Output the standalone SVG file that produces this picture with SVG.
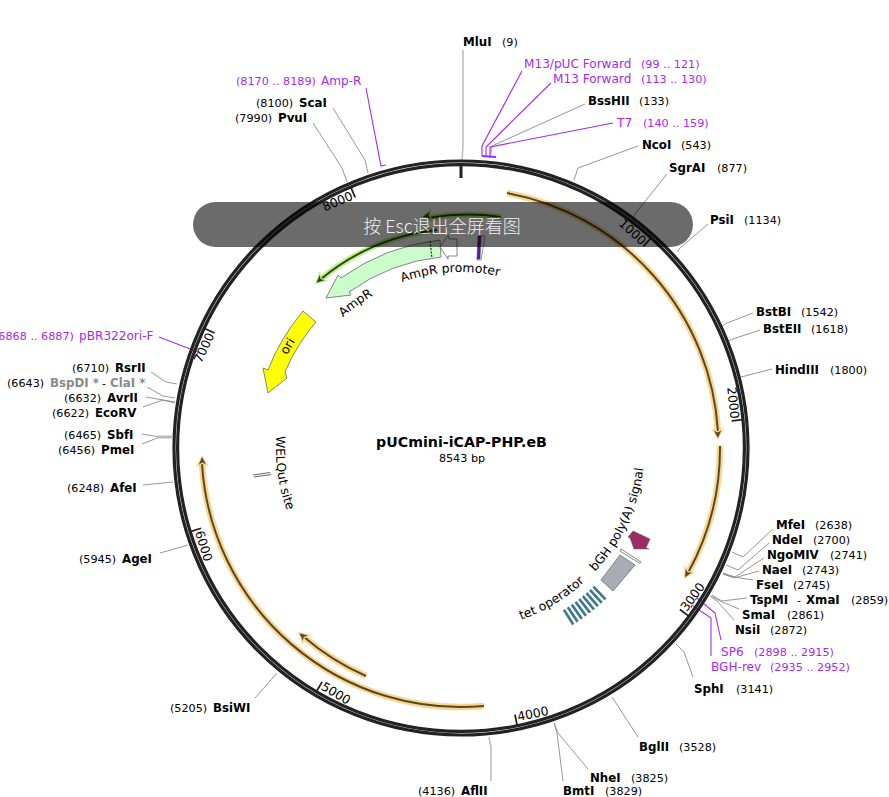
<svg xmlns="http://www.w3.org/2000/svg" width="889" height="797" viewBox="0 0 889 797">
<style>
text{font-family:"DejaVu Sans",sans-serif;fill:#000}
.e{font-size:11.8px;font-weight:700}
.n{font-size:11.2px}
.p{font-size:11.2px;fill:#a52af0}
.pn{font-size:12.1px;fill:#a52af0}
.g{font-weight:700;font-size:11.8px;fill:#8a8a8a}
.f{font-size:12.4px}
.t{font-size:12.4px}
.c{fill:none;stroke:#8a8a8a;stroke-width:.9}
.cl{fill:none;stroke:#bbb;stroke-width:1.5}
.cp{fill:none;stroke:#a52af0;stroke-width:1.1}
.ring{fill:none;stroke:#222;stroke-width:3.2}
.tick{stroke:#222;stroke-width:1.8}
.og{fill:none;stroke:#fdd58a;stroke-width:6.5}
.od{fill:none;stroke:#54482f;stroke-width:2}
.gg{fill:none;stroke:#bdf088;stroke-width:6}
.gd{fill:none;stroke:#2c4a1c;stroke-width:2}
.st{fill:#2f7f93;stroke:#4d646c;stroke-width:.5}
.fs{stroke:#777;stroke-width:.9}
</style>
<defs>
<g id="oh"><polygon points="0,0 -12,-6.5 -9,0 -12,6.5" fill="#fdd58a"/><polygon points="-2,0 -9.5,-3.5 -7.5,0 -9.5,3.5" fill="#54482f"/></g>
<g id="gh"><polygon points="0,0 -12,-6.5 -9,0 -12,6.5" fill="#bdf088"/><polygon points="-2,0 -9.5,-3.5 -7.5,0 -9.5,3.5" fill="#2c4a1c"/></g>
<path id="tpAP" d="M363.9,301.2A176,176 0 0 1 539.5,290.5"/>
<path id="tpA" d="M300.2,376.4A176,176 0 0 1 442.6,273"/>
<path id="tpO" d="M264,446.6A197,197 0 0 1 363.7,276.7"/>
<path id="tpW" d="M289.4,378.7A185,185 0 0 0 315.2,561.9"/>
<path id="tpT" d="M464.2,630A182,182 0 0 0 620.2,536.2"/>
<path id="tpB" d="M565,597.5A184,184 0 0 0 644,428.8"/>
</defs>
<g id="connectors">
<polyline class="cl" points="463,50 463,146 462,160"/>
<polyline class="c" points="585,104 492,146 490,158"/>
<polyline class="c" points="638,146 578,168 574,180"/>
<polyline class="c" points="667,174 635,214 633,220"/>
<polyline class="c" points="708,224 680,248 677,252"/>
<polyline class="c" points="753,313 727,323 722,326"/>
<polyline class="c" points="760,330 733,339 729,341"/>
<polyline class="c" points="772,369 745,376 741,377"/>
<polyline class="c" points="773,529 743,557 732,552"/>
<polyline class="c" points="769,543 738,570 726,565"/>
<polyline class="c" points="764,558 735,577 723,573"/>
<polyline class="c" points="759,571 734,578 723,574"/>
<polyline class="c" points="753,580 733,577 723,574"/>
<polyline class="c" points="747,598 722,601 712,595"/>
<polyline class="c" points="739,609 720,601 711,596"/>
<polyline class="c" points="734,620 717,601 710,596"/>
<polyline class="c" points="693,677 684,652 676,644"/>
<polyline class="c" points="638,737 612,697"/>
<polyline class="c" points="588,769 558,733 554,723"/>
<polyline class="c" points="563,781 557,733 554,723"/>
<polyline class="cl" points="491,781 491,748 489,737"/>
<polyline class="c" points="255,698 277,673"/>
<polyline class="c" points="160,553 188,545"/>
<polyline class="c" points="143,485 173,482"/>
<polyline class="c" points="142,444 160,437 172,437"/>
<polyline class="c" points="142,434 160,437 172,437"/>
<line x1="158" y1="437" x2="172" y2="437" stroke="#bbb" stroke-width="3"/>
<polyline class="c" points="143,407 163,400 175,403"/>
<polyline class="c" points="146,397 163,400 175,402"/>
<polyline class="c" points="147,387 163,396 175,398"/>
<polyline class="c" points="151,372 166,382 177,384"/>
<polyline class="c" points="333,108 365,160 368,173"/>
<polyline class="c" points="313,123 342,168 347,182"/>
<polyline class="cp" points="522,71 482,146 482,156"/>
<line x1="482" y1="156" x2="496" y2="157" stroke="#a52af0" stroke-width="2"/>
<polyline class="cp" points="551,83 486,147 486,156"/>
<polyline class="cp" points="613,123 490,147 490,157"/>
<polyline class="cp" points="366,88 381,166 386,165"/>
<polyline class="cp" points="159,337 198,352 196,356"/>
<polyline class="cp" points="721,640 715,613 697,598 695,600"/>
<polyline class="cp" points="711,656 711,618 692,605 691,608"/>
</g>
<g id="backbone">
<circle class="ring" cx="461" cy="448" r="287"/>
<circle class="ring" cx="461" cy="448" r="283.4"/>
<line x1="461" y1="165" x2="461" y2="178" stroke="#222" stroke-width="3"/>
</g>
<g id="ticks">
<g transform="rotate(42.14 461 448)"><line class="tick" x1="461" y1="176" x2="461" y2="164"/><text class="t" x="459" y="177" text-anchor="end">1000</text></g>
<g transform="rotate(84.28 461 448)"><line class="tick" x1="461" y1="176" x2="461" y2="164"/><text class="t" x="459" y="177" text-anchor="end">2000</text></g>
<g transform="rotate(306.42 461 448)"><line class="tick" x1="461" y1="720" x2="461" y2="732"/><text class="t" x="463" y="727">3000</text></g>
<g transform="rotate(348.56 461 448)"><line class="tick" x1="461" y1="720" x2="461" y2="732"/><text class="t" x="463" y="727">4000</text></g>
<g transform="rotate(30.7 461 448)"><line class="tick" x1="461" y1="720" x2="461" y2="732"/><text class="t" x="463" y="727">5000</text></g>
<g transform="rotate(72.84 461 448)"><line class="tick" x1="461" y1="720" x2="461" y2="732"/><text class="t" x="463" y="727">6000</text></g>
<g transform="rotate(295 461 448)"><line class="tick" x1="461" y1="176" x2="461" y2="164"/><text class="t" x="459" y="177" text-anchor="end">7000</text></g>
<g transform="rotate(337.1 461 448)"><line class="tick" x1="461" y1="176" x2="461" y2="164"/><text class="t" x="459" y="177" text-anchor="end">8000</text></g>
</g>
<g id="feature-orange-1"><path class="og" d="M507,193A258,258 0 0 1 718,432"/><path class="od" d="M507,193A258,258 0 0 1 718,432"/><use href="#oh" transform="translate(718,440) rotate(88)"/></g>
<g id="feature-orange-2"><path class="og" d="M720,446A259,259 0 0 1 688,573"/><path class="od" d="M720,446A259,259 0 0 1 688,573"/><use href="#oh" transform="translate(684,579) rotate(120)"/></g>
<g id="feature-orange-3"><path class="og" d="M366,676A247,247 0 0 1 304,637"/><path class="od" d="M366,676A247,247 0 0 1 304,637"/><use href="#oh" transform="translate(298,632) rotate(221)"/></g>
<g id="feature-orange-4"><path class="og" d="M484,706A259,259 0 0 1 202,464"/><path class="od" d="M484,706A259,259 0 0 1 202,464"/><use href="#oh" transform="translate(202,455) rotate(268)"/></g>
<g id="feature-green-1"><path class="gg" d="M501,217A233,233 0 0 0 428,218"/><path class="gd" d="M501,217A233,233 0 0 0 428,218"/><use href="#gh" transform="translate(421,217) rotate(170)"/></g>
<g id="feature-green-2"><path class="gg" d="M437,230A220,220 0 0 0 321,279"/><path class="gd" d="M437,230A220,220 0 0 0 321,279"/><use href="#gh" transform="translate(315,284) rotate(138)"/></g>
<g id="AmpR"><path class="fs" fill="#ccfccc" d="M440,240L441,257A192,192 0 0 0 349,292L351,295L326,298L338,275L341,278A209,209 0 0 1 440,240Z"/><line x1="430" y1="241" x2="432" y2="258" stroke="#000" stroke-dasharray="2 1.5"/><text class="f"><textPath href="#tpA" startOffset="50%" text-anchor="middle">AmpR</textPath></text></g>
<g id="AmpR-promoter"><polygon class="fs" fill="#fff" points="440,247 448,235 449,239 457,239 457,256 448,256 448,259"/><text class="f"><textPath href="#tpAP" startOffset="50%" text-anchor="middle">AmpR promoter</textPath></text></g>
<g id="mark"><polygon fill="#fff" stroke="#777" stroke-width=".8" points="481,236 485,236 481,260 477,260"/><polygon fill="#5a1a90" stroke="#444" stroke-width=".6" points="478,236 481,236 480,259 477,259"/></g>
<g id="ori"><path class="fs" fill="#ff0" d="M303,311L316,322A192,192 0 0 0 285,372L287,378L268,393L263,368L268,370A209,209 0 0 1 303,311Z"/><text class="f"><textPath href="#tpO" startOffset="50%" text-anchor="middle">ori</textPath></text></g>
<g id="WELQut"><line x1="253" y1="475" x2="270" y2="472.5" stroke="#666"/><line x1="254" y1="477" x2="271" y2="474.5" stroke="#666"/><text class="f"><textPath href="#tpW" startOffset="50%" text-anchor="middle">WELQut site</textPath></text></g>
<g id="tet-operator">
<rect class="st" x="460" y="239" width="2.2" height="17" transform="rotate(147.5 461 448)"/>
<rect class="st" x="460" y="239" width="2.2" height="17" transform="rotate(146.1 461 448)"/>
<rect class="st" x="460" y="239" width="2.2" height="17" transform="rotate(144.7 461 448)"/>
<rect class="st" x="460" y="239" width="2.2" height="17" transform="rotate(143.3 461 448)"/>
<rect class="st" x="460" y="239" width="2.2" height="17" transform="rotate(141.9 461 448)"/>
<rect class="st" x="460" y="239" width="2.2" height="17" transform="rotate(140.5 461 448)"/>
<rect class="st" x="460" y="239" width="2.2" height="17" transform="rotate(139.1 461 448)"/>
<rect class="st" x="460" y="239" width="2.2" height="17" transform="rotate(137.7 461 448)"/>
<rect class="st" x="460" y="239" width="2.2" height="17" transform="rotate(136.3 461 448)"/>
<text class="f"><textPath href="#tpT" startOffset="50%" text-anchor="middle">tet operator</textPath></text></g>
<g id="bGH"><polygon class="fs" fill="#a8adb5" points="620,555 635,565 613,591 601,580"/><polygon class="fs" fill="#fff" stroke-width=".7" points="621,549 641,562 640,563.5 620,551"/><polygon fill="#9b2d62" stroke="#666" stroke-width=".6" points="633,531 650,539 646,548 649,549 634,549 630,538 628,537"/><text class="f"><textPath href="#tpB" startOffset="50%" text-anchor="middle">bGH poly(A) signal</textPath></text></g>
<g id="title"><text x="461.5" y="447" text-anchor="middle" font-size="14.2" font-weight="700">pUCmini-iCAP-PHP.eB</text><text class="n" x="462" y="462" text-anchor="middle">8543 bp</text></g>
<g id="MluI"><text class="e" x="463" y="46">MluI</text><text class="n" x="502" y="46">(9)</text></g>
<g id="M13pUC"><text class="pn" x="524" y="68">M13/pUC Forward</text><text class="p" x="641" y="68">(99 .. 121)</text></g>
<g id="M13F"><text class="pn" x="553" y="83">M13 Forward</text><text class="p" x="641" y="83">(113 .. 130)</text></g>
<g id="BssHII"><text class="e" x="588" y="105">BssHII</text><text class="n" x="639" y="105">(133)</text></g>
<g id="T7"><text class="pn" x="617" y="127">T7</text><text class="p" x="643" y="127">(140 .. 159)</text></g>
<g id="NcoI"><text class="e" x="642" y="149">NcoI</text><text class="n" x="681" y="149">(543)</text></g>
<g id="SgrAI"><text class="e" x="669" y="172">SgrAI</text><text class="n" x="717" y="172">(877)</text></g>
<g id="PsiI"><text class="e" x="710" y="224">PsiI</text><text class="n" x="744" y="224">(1134)</text></g>
<g id="BstBI"><text class="e" x="756" y="316">BstBI</text><text class="n" x="801" y="316">(1542)</text></g>
<g id="BstEII"><text class="e" x="763" y="333">BstEII</text><text class="n" x="811" y="333">(1618)</text></g>
<g id="HindIII"><text class="e" x="775" y="374">HindIII</text><text class="n" x="830" y="374">(1800)</text></g>
<g id="MfeI"><text class="e" x="776" y="529">MfeI</text><text class="n" x="815" y="529">(2638)</text></g>
<g id="NdeI"><text class="e" x="772" y="544">NdeI</text><text class="n" x="813" y="544">(2700)</text></g>
<g id="NgoMIV"><text class="e" x="767" y="559">NgoMIV</text><text class="n" x="830" y="559">(2741)</text></g>
<g id="NaeI"><text class="e" x="762" y="574">NaeI</text><text class="n" x="802" y="574">(2743)</text></g>
<g id="FseI"><text class="e" x="756" y="589">FseI</text><text class="n" x="793" y="589">(2745)</text></g>
<g id="TspMI-XmaI"><text class="e" x="750" y="604">TspMI</text><text class="n" x="797" y="604">-</text><text class="e" x="806" y="604">XmaI</text><text class="n" x="851" y="604">(2859)</text></g>
<g id="SmaI"><text class="e" x="742" y="619">SmaI</text><text class="n" x="787" y="619">(2861)</text></g>
<g id="NsiI"><text class="e" x="735" y="634">NsiI</text><text class="n" x="770" y="634">(2872)</text></g>
<g id="SP6"><text class="pn" x="721" y="656">SP6</text><text class="p" x="754" y="656">(2898 .. 2915)</text></g>
<g id="BGH-rev"><text class="pn" x="711" y="671">BGH-rev</text><text class="p" x="770" y="671">(2935 .. 2952)</text></g>
<g id="SphI"><text class="e" x="694" y="693">SphI</text><text class="n" x="736" y="693">(3141)</text></g>
<g id="BglII"><text class="e" x="639" y="751">BglII</text><text class="n" x="679" y="751">(3528)</text></g>
<g id="NheI"><text class="e" x="590" y="782">NheI</text><text class="n" x="631" y="782">(3825)</text></g>
<g id="BmtI"><text class="e" x="563" y="794.5">BmtI</text><text class="n" x="605" y="794.5">(3829)</text></g>
<g id="AflII"><text class="n" x="418" y="794.5">(4136)</text><text class="e" x="461" y="794.5">AflII</text></g>
<g id="BsiWI"><text class="n" x="170" y="712">(5205)</text><text class="e" x="213" y="712">BsiWI</text></g>
<g id="AgeI"><text class="n" x="79" y="563">(5945)</text><text class="e" x="122" y="563">AgeI</text></g>
<g id="AfeI"><text class="n" x="67" y="492">(6248)</text><text class="e" x="110" y="492">AfeI</text></g>
<g id="PmeI"><text class="n" x="58" y="454">(6456)</text><text class="e" x="101" y="454">PmeI</text></g>
<g id="SbfI"><text class="n" x="64" y="439">(6465)</text><text class="e" x="107" y="439">SbfI</text></g>
<g id="EcoRV"><text class="n" x="52" y="417">(6622)</text><text class="e" x="95" y="417">EcoRV</text></g>
<g id="AvrII"><text class="n" x="64" y="402">(6632)</text><text class="e" x="107" y="402">AvrII</text></g>
<g id="BspDI-ClaI"><text class="n" x="7" y="387">(6643)</text><text class="g" x="50" y="387">BspDI *</text><text class="n" x="102" y="387">-</text><text class="g" x="110" y="387">ClaI *</text></g>
<g id="RsrII"><text class="n" x="72" y="372">(6710)</text><text class="e" x="115" y="372">RsrII</text></g>
<g id="pBR322ori-F"><text class="p" x="-6" y="340">(6868 .. 6887)</text><text class="pn" x="79" y="340">pBR322ori-F</text></g>
<g id="Amp-R"><text class="p" x="236" y="85">(8170 .. 8189)</text><text class="pn" x="321" y="85">Amp-R</text></g>
<g id="ScaI"><text class="n" x="256" y="107">(8100)</text><text class="e" x="299" y="107">ScaI</text></g>
<g id="PvuI"><text class="n" x="235" y="122">(7990)</text><text class="e" x="278" y="122">PvuI</text></g>
<g id="overlay"><rect x="193" y="202" width="500" height="45" rx="22.5" fill="#000" fill-opacity=".58"/><text x="442" y="233" text-anchor="middle" font-size="18" style="font-family:'Noto Sans CJK SC',sans-serif;fill:#eee;font-weight:300">按 Esc退出全屏看图</text></g>
</svg>
